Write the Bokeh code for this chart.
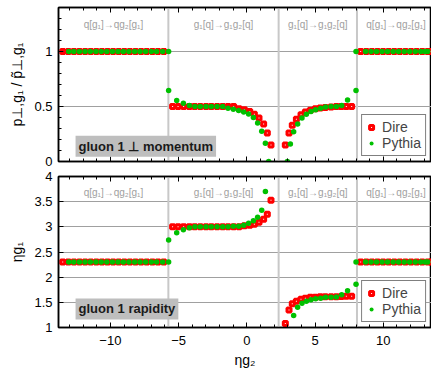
import math
from bokeh.plotting import figure
from bokeh.models import (Range1d, SingleIntervalTicker, Span, Label, Legend,
                          LegendItem, ColumnDataSource, LinearAxis,
                          CustomJSTickFormatter)
from bokeh.layouts import column
from bokeh.embed import file_html
from bokeh.resources import INLINE
from bokeh.core.properties import value

nan = float("nan")

# ---------------- data ----------------
region_edges = [-13.8, -5.75, 2.33, 8.07, 13.8]
region_labels = ["q[g₁]→qg₂[g₁]", "g₁[q]→g₁g₂[q]", "g₁[q]→g₁g₂[q]", "q[g₁]→qg₂[g₁]"]

dire_eta = [-13.49, -13.08, -12.67, -12.26, -11.85, -11.44, -11.03, -10.62, -10.21,
            -9.80, -9.39, -8.98, -8.57, -8.16, -7.75, -7.34, -6.92, -6.51, -6.09,
            -5.44, -5.04, -4.63, -4.21, -3.82, -3.41, -2.99, -2.60, -2.18, -1.77,
            -1.38, -0.97, -0.57, -0.18, 0.21, 0.55, 0.89, 1.23, 1.50, 1.77,
            2.82, 3.09, 3.33, 3.63, 3.97, 4.29, 4.65, 5.02, 5.38, 5.75, 6.17, 6.56,
            6.92, 7.29, 7.68,
            8.34, 8.75, 9.16, 9.57, 9.98, 10.39, 10.80, 11.21, 11.62, 12.03, 12.44,
            12.85, 13.26, 13.50]
dire_pt = [1.0] * 19 + [
    0.50, 0.50, 0.50, 0.50, 0.50, 0.50, 0.50, 0.50, 0.50, 0.50,
    0.50, 0.50, 0.48, 0.47, 0.455, 0.43, 0.395, 0.34, 0.26, 0.15,
    0.15, 0.26, 0.33, 0.385, 0.425, 0.45, 0.465, 0.48, 0.487, 0.49, 0.495, 0.50,
    0.50, 0.50, 0.50] + [1.0] * 14
dire_rap = [2.30] * 19 + [
    3.00, 3.00, 3.00, 3.00, 3.00, 3.00, 3.00, 3.00, 3.00, 3.00,
    3.00, 3.00, 3.00, 3.02, 3.03, 3.05, 3.09, 3.15, 3.25, 3.53,
    1.08, 1.35, 1.47, 1.52, 1.56, 1.58, 1.60, 1.60, 1.61, 1.61, 1.61, 1.61,
    1.615, 1.62, 1.62] + [2.30] * 14

pythia_eta = [-13.05, -12.68, -12.27, -11.86, -11.47, -11.06, -10.67, -10.26, -9.85,
              -9.44, -9.05, -8.64, -8.22, -7.83, -7.42, -7.00, -6.61, -6.17, -5.73,
              -5.73, -5.14, -4.65, -4.21, -3.80, -3.41, -2.99, -2.60, -2.18, -1.77,
              -1.38, -0.99, -0.60, -0.23, 0.13, 0.48, 0.79, 1.09, 1.36, 1.60,
              2.97, 3.19, 3.43, 3.72, 4.04, 4.36, 4.70, 5.04, 5.41, 5.77, 6.17, 6.56,
              6.95, 7.38, 8.00, 8.00,
              8.70, 9.10, 9.50, 9.91, 10.31, 10.72, 11.12, 11.53, 11.93, 12.34, 12.74,
              13.05, 13.25]
pythia_pt = [1.0] * 19 + [
    0.645, 0.555, 0.53, 0.51, 0.50, 0.50, 0.50, 0.50, 0.50, 0.50,
    0.485, 0.476, 0.464, 0.449, 0.431, 0.40, 0.35, 0.276, 0.167, 0.0,
    0.0, 0.16, 0.27, 0.34, 0.395, 0.43, 0.455, 0.47, 0.485, 0.495, 0.50, 0.50,
    0.51, 0.56, 0.645, 1.0] + [1.0] * 13
pythia_rap = [2.30] * 19 + [
    2.74, 2.88, 2.94, 2.98, 3.00, 3.00, 3.00, 3.00, 3.00, 3.00,
    3.00, 3.01, 3.01, 3.03, 3.07, 3.12, 3.19, 3.33, 3.70, nan,
    nan, nan, 1.24, 1.40, 1.48, 1.52, 1.55, 1.57, 1.58, 1.60, 1.60, 1.605,
    1.65, 1.73, 1.86, 2.30] + [2.30] * 13

# ---------------- styling ----------------
FONT = "Liberation Sans"
W = 431
X0, X1 = -13.8, 13.53
RED = "#ff0000"
GREEN = "#00c000"

mids = [(region_edges[i] + region_edges[i + 1]) / 2 for i in range(len(region_labels))]


def tick_style(ax):
    ax.axis_line_width = 1.5
    ax.axis_line_color = "black"
    ax.major_tick_line_color = "black"
    ax.minor_tick_line_color = "black"
    ax.major_tick_in = 5
    ax.major_tick_out = 0
    ax.minor_tick_in = 3
    ax.minor_tick_out = 0


def bare_x_axis():
    ax = LinearAxis(ticker=SingleIntervalTicker(interval=5, num_minor_ticks=5),
                    formatter=CustomJSTickFormatter(code="return ''"),
                    major_label_text_font_size="5px", major_label_standoff=0)
    tick_style(ax)
    return ax


def style_axes(p, xlabel, ylabel):
    for ax in p.xaxis + p.yaxis:
        tick_style(ax)
        ax.major_label_text_font = FONT
        ax.major_label_text_font_size = "13px"
        ax.major_label_text_color = "black"
        ax.axis_label_text_font = FONT
        ax.axis_label_text_font_style = "normal"
        ax.axis_label_text_font_size = "14px"
        ax.axis_label_text_color = "black"
    p.yaxis.axis_label = ylabel
    p.xaxis.ticker = SingleIntervalTicker(interval=5, num_minor_ticks=5)
    if xlabel is not None:
        p.xaxis.axis_label = xlabel
        p.xaxis.major_label_standoff = 8
        p.xaxis.axis_label_standoff = 4
    else:
        p.xaxis.visible = False
        p.add_layout(bare_x_axis(), "below")
    p.add_layout(bare_x_axis(), "above")
    p.yaxis.major_label_standoff = 6
    p.yaxis.axis_label_standoff = 6
    p.xgrid.visible = False
    p.ygrid.grid_line_color = "#a0a0a0"
    p.ygrid.grid_line_width = 1
    p.outline_line_color = "black"
    p.outline_line_width = 1.5
    p.background_fill_color = "white"
    p.border_fill_color = "white"
    for e in region_edges[1:-1]:
        p.add_layout(Span(location=e, dimension="height", line_color="#c8c8c8",
                          line_width=2, level="underlay"))


def add_marks(p, dire_y, pythia_y, label_y, box_text, box_x, box_y):
    src_lab = ColumnDataSource(dict(x=mids, y=[label_y] * len(mids), t=region_labels))
    p.text(x="x", y="y", text="t", source=src_lab, text_align="center",
           text_baseline="middle", text_font=value(FONT), text_font_size="10px",
           text_color="#a0a0a0")
    r_d = p.scatter(dire_eta, dire_y, marker="square", size=4, fill_color="white",
                    line_color=RED, line_width=3)
    r_p = p.scatter(pythia_eta, pythia_y, marker="circle", size=5.5,
                    fill_color=GREEN, line_color=None)
    p.add_layout(Label(x=box_x, y=box_y, text=box_text, text_font=FONT,
                       text_font_size="13px", text_font_style="bold",
                       text_color="#1a1a1a", text_align="left",
                       text_baseline="bottom", background_fill_color="#bebebe",
                       padding=3))
    leg = Legend(items=[LegendItem(label="Dire", renderers=[r_d]),
                        LegendItem(label="Pythia", renderers=[r_p])],
                 location="bottom_right", border_line_color="black",
                 border_line_width=1.5, label_text_font=FONT,
                 label_text_font_size="14px", glyph_width=10, glyph_height=10,
                 spacing=0, padding=4, margin=5, label_height=16,
                 label_standoff=6, background_fill_alpha=1.0)
    p.add_layout(leg)


p1 = figure(width=W, height=168, x_range=Range1d(X0, X1), y_range=Range1d(0, 1.4),
            output_backend="svg", toolbar_location=None,
            min_border_left=58, min_border_right=0, min_border_top=7,
            min_border_bottom=7)
style_axes(p1, None, "p⊥,g₁ / p̃⊥,g₁")
p1.yaxis.ticker = SingleIntervalTicker(interval=0.5, num_minor_ticks=5)
add_marks(p1, dire_pt, pythia_pt, 1.25, "gluon 1 ⊥ momentum", -12.55, 0.043)

p2 = figure(width=W, height=203, x_range=p1.x_range, y_range=Range1d(1, 4),
            output_backend="svg", toolbar_location=None,
            min_border_left=58, min_border_right=0, min_border_top=8,
            min_border_bottom=44)
style_axes(p2, "ηg₂", "ηg₁")
p2.yaxis.ticker = SingleIntervalTicker(interval=0.5, num_minor_ticks=0)
add_marks(p2, dire_rap, pythia_rap, 3.68, "gluon 1 rapidity", -12.55, 1.16)

layout = column(p1, p2)
open("out.html", "w").write(file_html(layout, INLINE))
